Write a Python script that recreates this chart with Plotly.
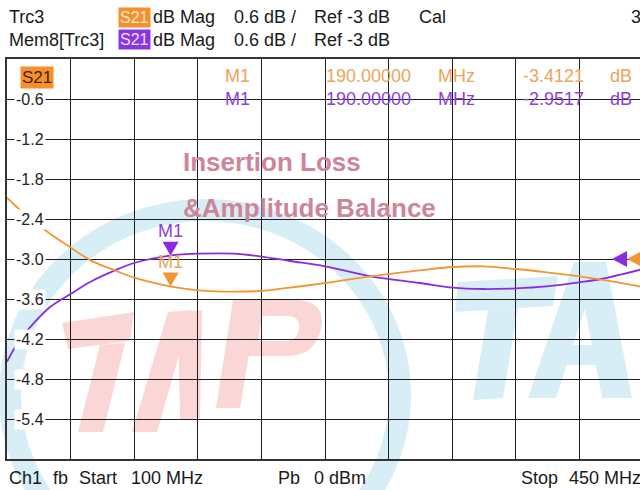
import plotly.graph_objects as go

# ---------------- data ----------------
freq_mhz = [100, 107, 114.5, 123.7, 135.2, 146, 159.4, 170, 189.7, 206, 224.6,
            239.2, 255.7, 275, 300, 327, 345.4, 362, 380, 397, 415, 427, 450]
trc3_db = [-2.08, -2.26, -2.43, -2.62, -2.83, -3.02, -3.17, -3.28, -3.41, -3.47, -3.49,
           -3.48, -3.43, -3.36, -3.26, -3.17, -3.12, -3.11, -3.15, -3.20, -3.26, -3.31, -3.42]
mem8_db = [-4.54, -4.21, -3.97, -3.72, -3.52, -3.34, -3.17, -3.06, -2.95, -2.92, -2.92,
           -2.96, -3.03, -3.11, -3.26, -3.36, -3.43, -3.45, -3.44, -3.41, -3.35, -3.30, -3.15]
marker_freq = 190.0
marker_vals = [-3.4121, -2.9517]          # Trc3, Mem8
ref_level = -3.0
y_ticks = [-0.6, -1.2, -1.8, -2.4, -3.0, -3.6, -4.2, -4.8, -5.4]
y_tick_labels = ["-0.6", "-1.2", "-1.8", "-2.4", "-3.0", "-3.6", "-4.2", "-4.8", "-5.4"]
f_start, f_stop = 100, 450
db_top, db_bottom = 0.0, -6.0

# ---------------- style ----------------
FONT = "Liberation Sans, Arial, sans-serif"
ORANGE = "#f09632"
PURPLE = "#8a2be2"
ORANGE_TXT = "#eba45a"
PURPLE_TXT = "#8c3fdc"
W, H = 640, 490
ML, MR, MT, MB = 7, 0, 59, 31
PW, PH = W - ML - MR, H - MT - MB
x_hi = f_start + PW * (f_stop - f_start) / 636.0   # right frame edge lies just off-screen


def pxx(x):
    return (x - ML) / PW


def pxy(y):
    return (H - MB - y) / PH


def px_to_f(x):
    return f_start + (x - ML) * (x_hi - f_start) / PW


fig = go.Figure()

fig.add_trace(go.Scatter(x=freq_mhz, y=mem8_db, mode="lines", line=dict(color=PURPLE, width=1.8, shape="spline"),
                         hoverinfo="skip", showlegend=False))
fig.add_trace(go.Scatter(x=freq_mhz, y=trc3_db, mode="lines", line=dict(color=ORANGE, width=1.8, shape="spline"),
                         hoverinfo="skip", showlegend=False))

# ---------------- watermark ----------------
RED_WM = "#fbd6d6"
CYAN_WM = "#d8eef6"


def poly(pts):
    s = "M " + " L ".join(f"{pxx(x):.4f},{pxy(y):.4f}" for x, y in pts) + " Z"
    return s


shapes = []
# cyan ring
shapes.append(dict(type="circle", xref="paper", yref="paper", layer="below",
                   x0=pxx(10), x1=pxx(400), y0=pxy(210), y1=pxy(580),
                   line=dict(color=CYAN_WM, width=22), fillcolor="rgba(0,0,0,0)"))
red_polys = [
    [(62, 323), (134, 312), (130, 341), (68, 349)],          # T bar
    [(100, 345), (125, 343), (103, 432), (78, 432)],         # T stem
    [(132, 432), (157, 432), (192, 310), (168, 312)],        # A left leg
    [(178, 312), (202, 310), (200, 418), (180, 420)],        # A right leg
    [(233, 300), (258, 300), (240, 408), (216, 408)],        # P stem
]
for p in red_polys:
    shapes.append(dict(type="path", xref="paper", yref="paper", layer="below", path=poly(p),
                       fillcolor=RED_WM, line=dict(width=0)))
# P bowl with counter
bowl = (f"M {pxx(252):.4f},{pxy(300):.4f} L {pxx(298):.4f},{pxy(300):.4f} "
        f"Q {pxx(326):.4f},{pxy(302):.4f} {pxx(321):.4f},{pxy(328):.4f} "
        f"Q {pxx(316):.4f},{pxy(355):.4f} {pxx(288):.4f},{pxy(356):.4f} "
        f"L {pxx(244):.4f},{pxy(356):.4f} Z "
        f"M {pxx(262):.4f},{pxy(316):.4f} L {pxx(290):.4f},{pxy(316):.4f} "
        f"Q {pxx(301):.4f},{pxy(318):.4f} {pxx(299):.4f},{pxy(329):.4f} "
        f"Q {pxx(297):.4f},{pxy(341):.4f} {pxx(285):.4f},{pxy(341):.4f} "
        f"L {pxx(258):.4f},{pxy(341):.4f} Z")
shapes.append(dict(type="path", xref="paper", yref="paper", layer="below", path=bowl,
                   fillcolor=RED_WM, fillrule="evenodd", line=dict(width=0)))
cyan_polys = [
    [(458, 282), (558, 276), (553, 306), (455, 312)],
    [(488, 310), (518, 308), (503, 398), (473, 400)],
    [(528, 398), (556, 398), (600, 262), (574, 262)],
    [(576, 262), (606, 262), (632, 398), (602, 398)],
    [(556, 345), (620, 345), (616, 365), (552, 365)],
]
for p in cyan_polys:
    shapes.append(dict(type="path", xref="paper", yref="paper", layer="below", path=poly(p),
                       fillcolor=CYAN_WM, line=dict(width=0)))

# marker triangles: tip on the trace value (pixel-sized, anchored at data point)
for val, col in [(marker_vals[1], PURPLE), (marker_vals[0], ORANGE)]:
    shapes.append(dict(type="path", xref="x", yref="y", xsizemode="pixel", ysizemode="pixel",
                       xanchor=marker_freq, yanchor=val, layer="above",
                       path="M -8,14 L 8,14 L 0,0 Z", fillcolor=col, line=dict(width=0)))
# reference-level arrows at the right edge (tip pointing left at the ref level)
for tip_px, col in [(612, PURPLE), (627, ORANGE)]:
    shapes.append(dict(type="path", xref="x", yref="y", xsizemode="pixel", ysizemode="pixel",
                       xanchor=px_to_f(tip_px), yanchor=ref_level, layer="above",
                       path="M 0,0 L 15,8 L 15,-8 Z", fillcolor=col, line=dict(width=0)))

# ---------------- text ----------------
ann = []


def txt(t, x, y, color="#1a1a1a", size=18, bg=None, pad=0, anchor="left"):
    d = dict(text=t, xref="paper", yref="paper", x=pxx(x), y=pxy(y), xanchor=anchor, yanchor="middle",
             showarrow=False, font=dict(family=FONT, size=size, color=color), borderpad=pad)
    if bg:
        d["bgcolor"] = bg
    ann.append(d)


# header
txt("Trc3", 8, 17)
txt("S21", 118, 17, color="#ffe8d0", size=16, bg="#f5902c", pad=1)
txt("dB Mag", 152, 17)
txt("0.6 dB /", 233, 17)
txt("Ref -3 dB", 313, 17)
txt("Cal", 418, 17)
txt("3", 630, 17)
txt("Mem8[Trc3]", 8, 40)
txt("S21", 118, 40, color="#efe0ff", size=16, bg="#8a35e4", pad=1)
txt("dB Mag", 152, 40)
txt("0.6 dB /", 233, 40)
txt("Ref -3 dB", 313, 40)

# in-plot trace label
txt("S21", 20, 77, color="#4a2200", size=17, bg="#f5902c", pad=1)

# marker readout
for row_y, col, val in [(76, ORANGE_TXT, marker_vals[0]), (99, PURPLE_TXT, marker_vals[1])]:
    txt("M1", 224, row_y, color=col)
    txt(f"{marker_freq:.5f}", 325, row_y, color=col)
    txt("MHz", 437, row_y, color=col)
    txt(f"{val:.4f}", 522, row_y, color=col)
    txt("dB", 609, row_y, color=col)

# footer
txt("Ch1", 8, 478)
txt("fb", 52, 478)
txt("Start", 78, 478)
txt(f"{f_start} MHz", 130, 478)
txt("Pb", 277, 478)
txt("0 dBm", 313, 478)
txt("Stop", 520, 478)
txt(f"{f_stop} MHz", 568, 478)

# titles
txt("<b>Insertion Loss</b>", 182, 162, color="#cf8598", size=26)
txt("<b>&Amplitude Balance</b>", 182, 208, color="#cf8598", size=26)

# y tick labels with white background over the grid
for v, lab in zip(y_ticks, y_tick_labels):
    ann.append(dict(text=lab, xref="paper", yref="y", x=pxx(14), y=v, xanchor="left", yanchor="middle",
                    showarrow=False, font=dict(family=FONT, size=16, color="#222222"),
                    bgcolor="white", borderpad=1))

# marker labels
ann.append(dict(text="M1", x=marker_freq, y=marker_vals[1], xref="x", yref="y", showarrow=False,
                yshift=25, font=dict(family=FONT, size=18, color=PURPLE_TXT)))
ann.append(dict(text="M1", x=marker_freq, y=marker_vals[0], xref="x", yref="y", showarrow=False,
                yshift=24, font=dict(family=FONT, size=18, color=ORANGE_TXT)))

fig.update_layout(
    width=W, height=H, margin=dict(l=ML, r=MR, t=MT, b=MB, pad=0),
    paper_bgcolor="white", plot_bgcolor="white",
    shapes=shapes, annotations=ann, showlegend=False,
    xaxis=dict(range=[f_start, x_hi], tick0=f_start, dtick=35, showgrid=True, gridcolor="#1e1e1e", gridwidth=1,
               showticklabels=False, ticks="", zeroline=False, showline=True, linecolor="#333333",
               linewidth=1.5, mirror=True, fixedrange=True),
    yaxis=dict(range=[db_bottom, db_top], tick0=0, dtick=0.6, showgrid=True, gridcolor="#1e1e1e", gridwidth=1,
               showticklabels=False, ticks="", zeroline=False, showline=True, linecolor="#333333",
               linewidth=1.5, mirror=False, fixedrange=True),
)

fig.write_html("out.html", config=dict(displayModeBar=False),
               post_script="document.body.style.margin='0';document.body.style.overflow='hidden';")
